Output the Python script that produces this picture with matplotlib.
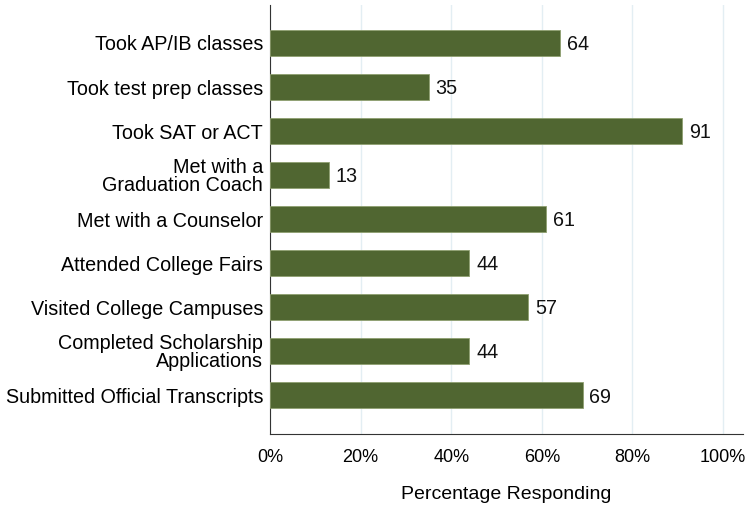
import matplotlib
matplotlib.use('Agg')
import matplotlib.pyplot as plt
from matplotlib.ticker import FuncFormatter

categories = ['Took AP/IB classes', 'Took test prep classes', 'Took SAT or ACT',
              'Met with a\nGraduation Coach', 'Met with a Counselor',
              'Attended College Fairs', 'Visited College Campuses',
              'Completed Scholarship\nApplications', 'Submitted Official Transcripts']
values = [64, 35, 91, 13, 61, 44, 57, 44, 69]
ticks = [0, 20, 40, 60, 80, 100]

plt.rcParams['font.family'] = ['Liberation Sans', 'DejaVu Sans']

fig = plt.figure(figsize=(7.49, 5.09), dpi=100)
ax = fig.add_axes([0.3605, 0.1473, 0.6315, 0.8427])

pos = list(range(len(categories)))
ax.barh(pos, values, height=0.6, color='#506631', edgecolor='#8fa070', linewidth=0.6, zorder=3)
for p, v in zip(pos, values):
    ax.text(v + 1.5, p + 0.04, str(v), va='center', ha='left', fontsize=14.2, color='#111111', zorder=4)

ax.set_xlim(0, 104.4)
ax.set_ylim(8.88, -0.86)
ax.set_xticks(ticks)
ax.xaxis.set_major_formatter(FuncFormatter(lambda x, _: '%d%%' % x))
ax.set_yticks(pos)
ax.set_yticklabels(categories, fontsize=14.2, linespacing=0.95)
ax.tick_params(axis='x', labelsize=13, length=0, pad=11)
ax.tick_params(axis='y', length=0, pad=5)
ax.grid(axis='x', color='#e3eef3', linewidth=1, zorder=0)
ax.spines['top'].set_visible(False)
ax.spines['right'].set_visible(False)
ax.spines['left'].set_color('#333333')
ax.spines['bottom'].set_color('#333333')
ax.set_xlabel('Percentage Responding', fontsize=14, labelpad=14)

plt.savefig('out.png', dpi=100)
